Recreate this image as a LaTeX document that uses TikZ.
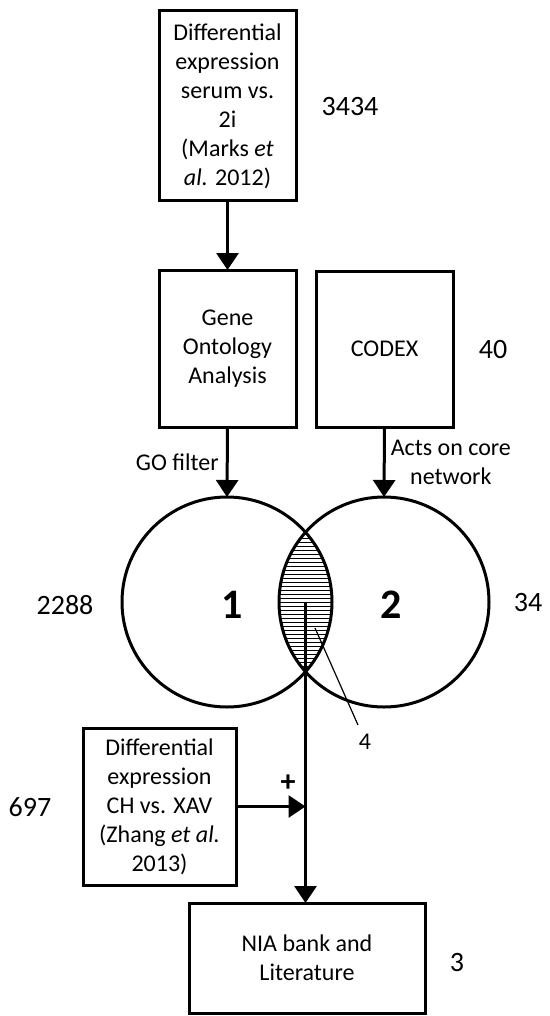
\documentclass[tikz,border=0pt]{standalone}
\usepackage{fontspec}
\setmainfont{Carlito}
\usetikzlibrary{arrows.meta,calc}
\begin{document}
\begin{tikzpicture}[x=1pt,y=-1pt,
  box/.style={draw,line width=3pt,inner sep=0pt,outer sep=0pt,align=center,
    font=\fontsize{24}{29}\selectfont},
  setc/.style={draw,circle,line width=3pt,inner sep=0pt,outer sep=0pt,minimum size=210pt},
  flow/.style={line width=3pt,-{Triangle[width=22pt,length=17pt]}},
  txt/.style={font=\fontsize{24}{29}\selectfont,align=center,inner sep=0pt},
  count/.style={font=\fontsize{28}{34}\selectfont,inner sep=0pt},
  setno/.style={font=\fontsize{42}{50}\selectfont\bfseries,inner sep=0pt},
  hatch/.style={line width=0.9pt},
  ]
\useasboundingbox (0,0) rectangle (549,1016);

% source boxes
\node[box,minimum width=137pt,minimum height=190pt] (marks) at (227.5,106)
  {Differential\\expression\\serum vs.\\2i\\(Marks \textit{et}\\\textit{al.} 2012)};
\node[box,minimum width=137pt,minimum height=157pt] (go) at (227.5,348.5)
  {Gene\\Ontology\\Analysis};
\node[box,minimum width=137pt,minimum height=156pt] (codex) at (384.5,349) {CODEX};

% Venn diagram: the overlap is hatched with horizontal lines
\coordinate (c1) at (227,602);
\coordinate (c2) at (384,602);
\coordinate (lens) at ($(c1)!0.5!(c2)$);
\begin{scope}
  \clip (c1) circle (105pt);
  \clip (c2) circle (105pt);
  \foreach \y in {530,534,...,674} \draw[hatch] (270,\y) -- (345,\y);
\end{scope}
\node[setc] (s1) at (c1) {};
\node[setc] (s2) at (c2) {};
\node[setno] (n1) at (232,605) {1};
\node[setno] (n2) at (391,605) {2};

% further boxes
\node[box,minimum width=153pt,minimum height=157pt] (zhang) at (159.5,806.5)
  {Differential\\expression\\CH vs. XAV\\(Zhang \textit{et al.}\\2013)};
\node[box,minimum width=236pt,minimum height=110pt] (nia) at (307,958)
  {NIA bank and\\Literature};

% gene counts
\node[count] (k3434) at (350,107) {3434};
\node[count] (k40) at (493,350) {40};
\node[count] (k2288) at (65,605) {2288};
\node[count] (k34) at (528,603) {34};
\node[count] (k697) at (30,807) {697};
\node[count] (k3) at (457,962) {3};

% connectors
\draw[flow] (marks.south) -- (go.north);
\draw[flow] (go.south) -- (s1.north)
  node[midway,left=7pt,txt] (golab) {GO filter};
\draw[flow] (codex.south) -- (s2.north)
  node[midway,right=5pt,txt] (codexlab) {Acts on core\\network};
\draw[flow] (lens) -- (lens |- nia.north);
\coordinate (join) at (lens |- zhang.east);
\draw[flow] (zhang.east) -- (join);
\node[font=\fontsize{30}{36}\selectfont\bfseries,inner sep=0pt] (plus) at (288,783) {+};

% label for the overlap
\coordinate (tip4) at (315,628);
\coordinate (end4) at (358,725);
\draw[line width=1.2pt] (tip4) -- (end4);
\node[txt] (four) at (365,742) {4};
\end{tikzpicture}
\end{document}
